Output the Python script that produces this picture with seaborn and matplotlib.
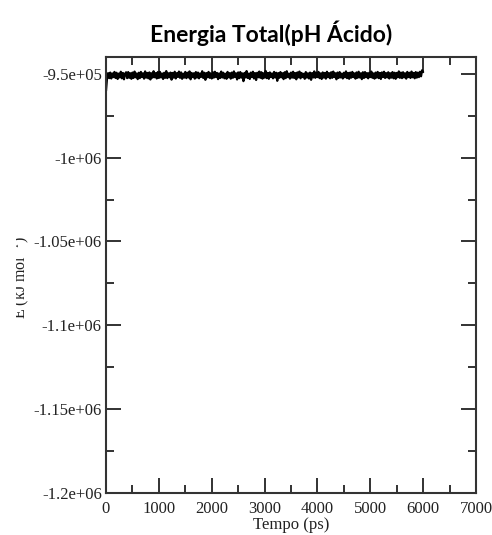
import numpy as np
import pandas as pd
import seaborn as sns
import matplotlib
matplotlib.use("Agg")
import matplotlib.pyplot as plt
from matplotlib.ticker import MultipleLocator, FixedLocator
from matplotlib.transforms import Bbox, TransformedBbox

# Total energy of the system (kJ/mol), sampled every 20 ps from 0 to 6000 ps
time_ps = np.arange(0, 6001, 20)
energy = [
    -960200, -952400, -949600, -952600, -949300, -952800, -949800, -952000, -948900, -952500,
    -949400, -953100, -949900, -952200, -948800, -952700, -949500, -953300, -950000, -949100,
    -952600, -949000, -952400, -949700, -953000, -949300, -952500, -948700, -952100, -949800,
    -953200, -949400, -952600, -948900, -952000, -949700, -952900, -948600, -952300, -949500,
    -952700, -949200, -953400, -949700, -952300, -948500, -952100, -949600, -952800, -949000,
    -952500, -948900, -952200, -949800, -953100, -949400, -952400, -948400, -952600, -949700,
    -952100, -949300, -953500, -949500, -952300, -948800, -952800, -949600, -951900, -948700,
    -952400, -949200, -953000, -949900, -952300, -948900, -952600, -949400, -952200, -948600,
    -953300, -949500, -952000, -949700, -952900, -949000, -952300, -949300, -952700, -949800,
    -951900, -948500, -952500, -949400, -953600, -949600, -952100, -948900, -952400, -949700,
    -952800, -949100, -952300, -948800, -952000, -949500, -953200, -949800, -952500, -948700,
    -952200, -949400, -952700, -950000, -953000, -948900, -952100, -949600, -952900, -949300,
    -952400, -948600, -952000, -949700, -953400, -949200, -952600, -949000, -952300, -949800,
    -954400, -949500, -952200, -948400, -952500, -949900, -953100, -949300, -952000, -948800,
    -952800, -949600, -953700, -949400, -952100, -948700, -952400, -949100, -952900, -949700,
    -952300, -948300, -952600, -949500, -953000, -949200, -952000, -949800, -952700, -948900,
    -952200, -949400, -954200, -949600, -952400, -949000, -952100, -949700, -953200, -949100,
    -952600, -948500, -952000, -949900, -952900, -949300, -952300, -948800, -952500, -949600,
    -953300, -949200, -952100, -948700, -952700, -949500, -952000, -950000, -953000, -949000,
    -952300, -949700, -952800, -949300, -953600, -949600, -952200, -948600, -952400, -949400,
    -952000, -948900, -952600, -949800, -953100, -949200, -952300, -949500, -952900, -948800,
    -952100, -949600, -952700, -949100, -952400, -948700, -952000, -949700, -953300, -949300,
    -952500, -949000, -952200, -949900, -952800, -949400, -952100, -948600, -952600, -949500,
    -953000, -949300, -952300, -948900, -952000, -949800, -952900, -949200, -952400, -948800,
    -952200, -949700, -953200, -949100, -952500, -949000, -952100, -949600, -952700, -949400,
    -952000, -948700, -952400, -949800, -952900, -949300, -952300, -948900, -952600, -949500,
    -953100, -949200, -952000, -948800, -952500, -949600, -952200, -949100, -952800, -949700,
    -952300, -949000, -952700, -949400, -953000, -949500, -952100, -948600, -952400, -949300,
    -952600, -949100, -952200, -949700, -952900, -948900, -952000, -949400, -952500, -948700,
    -952100, -949500, -952700, -949000, -952300, -949300, -952000, -948800, -951500, -947900,
    -949000,
]

x_ticks = [0, 1000, 2000, 3000, 4000, 5000, 6000, 7000]
y_ticks = [-1.2e6, -1.15e6, -1.1e6, -1.05e6, -1e6, -9.5e5]
y_tick_labels = ["-1.2e+06", "-1.15e+06", "-1.1e+06", "-1.05e+06", "-1e+06", "-9.5e+05"]

title = "Energia Total(pH Ácido)"
x_label = "Tempo (ps)"
y_label = "E (kJ mol$^{-1}$)"

df = pd.DataFrame({"Tempo": time_ps, "E": energy})

sns.set_theme(style="ticks")
plt.rcParams["font.family"] = ["Liberation Serif", "DejaVu Serif"]
plt.rcParams["mathtext.fontset"] = "stix"

fig = plt.figure(figsize=(4.92, 5.35), dpi=100)
ax = fig.add_axes([106 / 492, 1 - 493 / 535, 370 / 492, 436 / 535])

sns.lineplot(data=df, x="Tempo", y="E", ax=ax, color="black", linewidth=1.6,
             estimator=None, sort=False)

ax.set_xlim(0, 7000)
ax.set_ylim(-1.2e6, -9.4e5)
ax.xaxis.set_major_locator(FixedLocator(x_ticks))
ax.xaxis.set_minor_locator(MultipleLocator(500))
ax.yaxis.set_major_locator(FixedLocator(y_ticks))
ax.yaxis.set_minor_locator(MultipleLocator(25000))
ax.set_xticklabels([str(v) for v in x_ticks])
ax.set_yticklabels(y_tick_labels)

for side in ax.spines.values():
    side.set_linewidth(1.5)
    side.set_color("#333333")

ax.tick_params(axis="both", which="both", direction="in", top=True, right=True,
               colors="#222222", labelcolor="#222222")
ax.tick_params(axis="both", which="major", length=11, width=1.3, labelsize=12)
ax.tick_params(axis="both", which="minor", length=6, width=1.3)
ax.tick_params(axis="x", which="major", pad=6)
ax.tick_params(axis="y", which="major", pad=3)

ax.set_xlabel(x_label, fontsize=12, labelpad=0, color="#222222")
ax.set_ylabel("")

# the axis label is partly cut off along its left edge
ylab = fig.text(21 / 492, 1 - 277 / 535, y_label, rotation=90, ha="center", va="center",
                fontsize=11.5, color="#222222")
ylab.set_clip_box(TransformedBbox(Bbox([[15.8 / 492, 0], [1, 1]]), fig.transFigure))
ylab.set_clip_on(True)

fig.text(271 / 492, 1 - 33 / 535, title, ha="center", va="center",
         fontsize=16.5, fontweight="bold", family=["Lato", "DejaVu Sans"], color="black")

fig.savefig("out.png", dpi=100, facecolor="white")
